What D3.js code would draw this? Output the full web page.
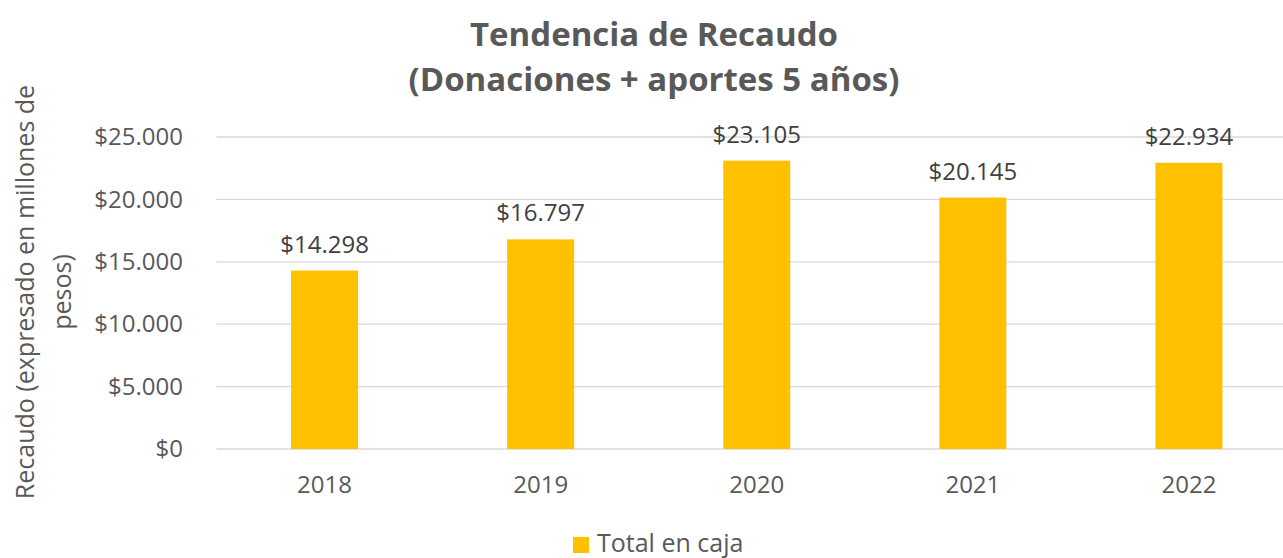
<!DOCTYPE html>
<html>
<head>
<meta charset="utf-8">
<script src="https://cdn.jsdelivr.net/npm/d3@7"></script>
<style>
  html, body { margin: 0; padding: 0; background: #fff; }
  svg { display: block; font-family: "Source Sans Pro", "Open Sans", sans-serif; }
</style>
</head>
<body>
<svg id="chart" width="1283" height="558"></svg>
<script>
// Annual collections (millions of pesos)
const years = ["2018", "2019", "2020", "2021", "2022"];
const totals = [14298, 16797, 23105, 20145, 22934];
const yTicks = [0, 5000, 10000, 15000, 20000, 25000];
const titleLines = ["Tendencia de Recaudo", "(Donaciones + aportes 5 años)"];
const yTitleLines = ["Recaudo (expresado en millones de", "pesos)"];
const seriesName = "Total en caja";

const W = 1283;
const FONT = '"Source Sans Pro", "Open Sans", sans-serif';
const margin = { left: 216.5, right: 1297, top: 137, bottom: 449 };
const barColor = "#FFC000";
const textColor = "#595959";

const svg = d3.select("#chart");

const x = d3.scaleBand()
  .domain(years)
  .range([margin.left, margin.right])
  .paddingInner(0.69)
  .paddingOuter(0.345);

const y = d3.scaleLinear()
  .domain([0, 25000])
  .range([margin.bottom, margin.top]);

const fmt = v => "$" + d3.format(",")(v).replace(/,/g, ".");

// Gridlines
svg.append("g")
  .selectAll("line")
  .data(yTicks)
  .join("line")
  .attr("x1", margin.left)
  .attr("x2", W)
  .attr("y1", d => y(d))
  .attr("y2", d => y(d))
  .attr("stroke", "#d9d9d9")
  .attr("stroke-width", 1.3);

// Y axis labels
const yAxis = d3.axisLeft(y).tickValues(yTicks).tickFormat(fmt).tickSize(0).tickPadding(0);
const yg = svg.append("g")
  .attr("transform", `translate(${183},0)`)
  .call(yAxis)
  .attr("font-family", FONT)
  .attr("font-size", 24);
yg.select(".domain").remove();
yg.selectAll("text").attr("fill", textColor);

// Bars
svg.append("g")
  .selectAll("rect")
  .data(years)
  .join("rect")
  .attr("x", d => x(d))
  .attr("width", x.bandwidth())
  .attr("y", (d, i) => y(totals[i]))
  .attr("height", (d, i) => y(0) - y(totals[i]))
  .attr("fill", barColor);

// Value labels
svg.append("g")
  .selectAll("text")
  .data(years)
  .join("text")
  .attr("x", d => x(d) + x.bandwidth() / 2)
  .attr("y", (d, i) => y(totals[i]) - 18)
  .attr("text-anchor", "middle")
  .attr("fill", "#404040")
  .style("font-size", "24px")
  .text((d, i) => fmt(totals[i]));

// X axis labels
const xAxis = d3.axisBottom(x).tickSize(0).tickPadding(0);
const xg = svg.append("g")
  .attr("transform", `translate(0,${margin.bottom + 27})`)
  .call(xAxis)
  .attr("font-family", FONT)
  .attr("font-size", 24);
xg.select(".domain").remove();
xg.selectAll("text").attr("fill", textColor);

// Title
svg.append("text")
  .attr("text-anchor", "middle")
  .attr("fill", textColor)
  .style("font-size", "33px")
  .style("font-weight", "bold")
  .selectAll("tspan")
  .data(titleLines)
  .join("tspan")
  .attr("x", 654)
  .attr("y", (d, i) => 46 + i * 45)
  .text(d => d);

// Y axis title
svg.append("text")
  .attr("transform", "translate(0,292) rotate(-90)")
  .attr("text-anchor", "middle")
  .attr("fill", textColor)
  .style("font-size", "25px")
  .selectAll("tspan")
  .data(yTitleLines)
  .join("tspan")
  .attr("x", 0)
  .attr("y", (d, i) => 34 + i * 37)
  .text(d => d);

// Legend
const legend = svg.append("g").attr("transform", "translate(573,537)");
legend.append("rect")
  .attr("width", 16).attr("height", 16)
  .attr("fill", barColor);
legend.append("text")
  .attr("x", 24).attr("y", 15)
  .attr("fill", textColor)
  .style("font-size", "25px")
  .text(seriesName);
</script>
</body>
</html>
